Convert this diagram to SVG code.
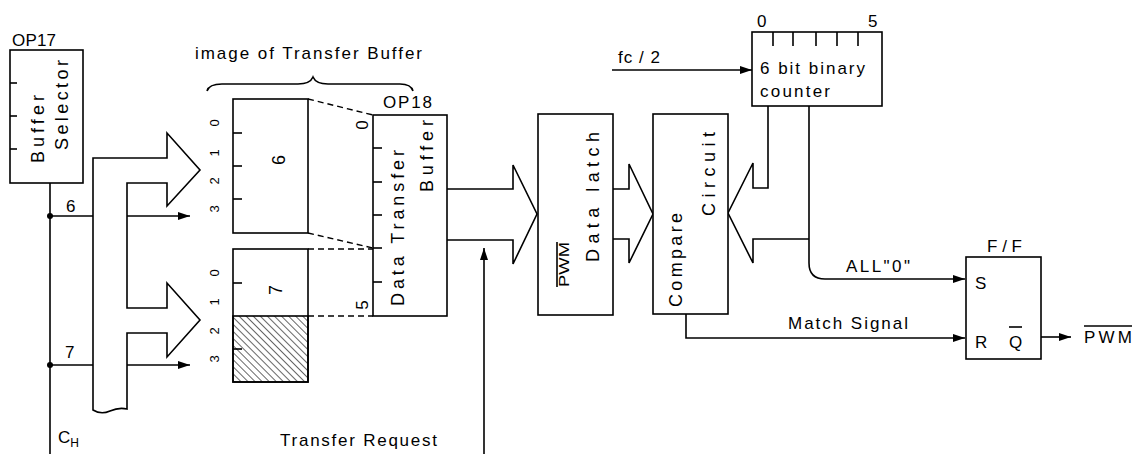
<svg xmlns="http://www.w3.org/2000/svg" width="1134" height="454" viewBox="0 0 1134 454">
<style>
  text { font-family: "Liberation Sans", Arial, sans-serif; fill: #000; }
  .t { font-size: 17px; }
  .big { font-size: 18px; }
  .bit { font-size: 13px; }
  .box { fill: #fff; stroke: #000; stroke-width: 1.6; }
  .ln { fill: none; stroke: #000; stroke-width: 1.6; }
  .bus { fill: #fff; stroke: #000; stroke-width: 1.6; stroke-linejoin: miter; }
  .dash { fill: none; stroke: #000; stroke-width: 1.4; stroke-dasharray: 6 4; }
  .tick { stroke: #000; stroke-width: 1.6; }
</style>
<defs>
  <marker id="ah" viewBox="0 0 12 8" refX="12" refY="4" markerWidth="12" markerHeight="8" markerUnits="userSpaceOnUse" orient="auto">
    <path d="M0,0 L12,4 L0,8 Z" fill="#000"/>
  </marker>
  <pattern id="hatch" width="5" height="10" patternUnits="userSpaceOnUse" patternTransform="rotate(-45)">
    <line x1="0" y1="0" x2="0" y2="10" stroke="#000" stroke-width="1.2"/>
  </pattern>
</defs>

<!-- connectors -->
<g id="connectors">
  <line class="ln" x1="50" y1="183" x2="50" y2="454"/>
  <circle cx="50" cy="216" r="3" fill="#000"/>
  <circle cx="50" cy="365" r="3" fill="#000"/>
  <line class="ln" x1="50" y1="216" x2="190" y2="216" marker-end="url(#ah)"/>
  <line class="ln" x1="50" y1="365" x2="190" y2="365" marker-end="url(#ah)"/>
  <path class="bus" d="M127,409 V333 H167 V357 L200,320 L167,283 V308 H127 V183 H167 V206 L200,170 L167,133 V158 H93 V410 Q101,415 110,411 Q119,407 127,409 Z"/>
  <line class="dash" x1="308" y1="99" x2="373" y2="115"/>
  <line class="dash" x1="308" y1="233" x2="373" y2="248"/>
  <line class="dash" x1="308" y1="249" x2="373" y2="249"/>
  <line class="dash" x1="308" y1="316" x2="373" y2="316"/>
  <path class="bus" d="M447,189 H513 V165 L537,214 L513,264 V240 H447"/>
  <line class="ln" x1="484" y1="454" x2="484" y2="248" marker-end="url(#ah)"/>
  <path class="bus" d="M613,189 H629 V164 L653,214 L629,263 V239 H613"/>
  <path class="bus" d="M768,106 V188 H753 V163 L728,213 L753,263 V239 H809"/>
  <line class="ln" x1="612" y1="70" x2="752" y2="70" marker-end="url(#ah)"/>
  <path class="ln" d="M809,106 V263 Q809,279 825,279 H965" marker-end="url(#ah)"/>
  <path class="ln" d="M686,314 V338 H965" marker-end="url(#ah)"/>
  <line class="ln" x1="1041" y1="337" x2="1071" y2="337" marker-end="url(#ah)"/>
</g>

<g id="brace">
  <path class="ln" d="M207,91 Q209,84 222,84 H298 Q310,84 313,77 Q316,84 328,84 H400 Q411,84 413,91"/>
  <text class="t" x="195" y="59" textLength="227" lengthAdjust="spacing">image of Transfer Buffer</text>
</g>

<g id="buffer-selector">
  <text class="t" x="12" y="46" textLength="44" lengthAdjust="spacing">OP17</text>
  <rect class="box" x="10" y="50" width="73" height="133"/>
  <line class="tick" x1="10" y1="83" x2="17" y2="83"/>
  <line class="tick" x1="10" y1="116" x2="17" y2="116"/>
  <line class="tick" x1="10" y1="149" x2="17" y2="149"/>
  <text class="big" transform="translate(44,163) rotate(-90)" textLength="68" lengthAdjust="spacing">Buffer</text>
  <text class="big" transform="translate(68,150) rotate(-90)" textLength="90" lengthAdjust="spacing">Selector</text>
  <text class="t" x="66" y="212">6</text>
  <text class="t" x="65" y="358">7</text>
  <text class="t" x="58" y="443">C<tspan font-size="12" dy="4">H</tspan></text>
</g>

<g id="reg6">
  <rect class="box" x="233" y="99" width="75" height="134"/>
  <line class="tick" x1="233" y1="133" x2="242" y2="133"/>
  <line class="tick" x1="233" y1="166" x2="242" y2="166"/>
  <line class="tick" x1="233" y1="199" x2="242" y2="199"/>
  <g class="bit" text-anchor="middle">
    <text transform="translate(219,123) rotate(-90)">0</text>
    <text transform="translate(219,153) rotate(-90)">1</text>
    <text transform="translate(219,181) rotate(-90)">2</text>
    <text transform="translate(219,209) rotate(-90)">3</text>
  </g>
  <text transform="translate(285,160) rotate(-90)" font-size="18" text-anchor="middle">6</text>
</g>

<g id="reg7">
  <rect class="box" x="233" y="249" width="75" height="133"/>
  <rect x="233" y="316" width="75" height="66" fill="url(#hatch)" stroke="#000" stroke-width="1.6"/>
  <line class="tick" x1="233" y1="283" x2="242" y2="283"/>
  <line class="tick" x1="233" y1="349" x2="242" y2="349"/>
  <g class="bit" text-anchor="middle">
    <text transform="translate(219,273) rotate(-90)">0</text>
    <text transform="translate(219,302) rotate(-90)">1</text>
    <text transform="translate(219,331) rotate(-90)">2</text>
    <text transform="translate(219,359) rotate(-90)">3</text>
  </g>
  <text transform="translate(282,290) rotate(-90)" font-size="18" text-anchor="middle">7</text>
</g>

<g id="dtb">
  <text class="t" x="383" y="108" textLength="49" lengthAdjust="spacing">OP18</text>
  <rect class="box" x="373" y="115" width="74" height="201"/>
  <line class="tick" x1="373" y1="148" x2="382" y2="148"/>
  <line class="tick" x1="373" y1="182" x2="382" y2="182"/>
  <line class="tick" x1="373" y1="215" x2="382" y2="215"/>
  <line class="tick" x1="373" y1="248" x2="382" y2="248"/>
  <line class="tick" x1="373" y1="282" x2="382" y2="282"/>
  <text class="t" transform="translate(368,125) rotate(-90)" text-anchor="middle">0</text>
  <text class="t" transform="translate(368,305) rotate(-90)" text-anchor="middle">5</text>
  <text class="big" transform="translate(404,306) rotate(-90)" textLength="156" lengthAdjust="spacing">Data Transfer</text>
  <text class="big" transform="translate(433,192) rotate(-90)" textLength="72" lengthAdjust="spacing">Buffer</text>
  <text class="t" x="280" y="446" textLength="157" lengthAdjust="spacing">Transfer Request</text>
</g>

<g id="latch">
  <rect class="box" x="538" y="114" width="75" height="201"/>
  <text transform="translate(569,287) rotate(-90)" font-size="14" textLength="45" lengthAdjust="spacingAndGlyphs">PWM</text>
  <line class="ln" x1="557" y1="242" x2="557" y2="287"/>
  <text class="big" transform="translate(599,262) rotate(-90)" textLength="130" lengthAdjust="spacing">Data latch</text>
</g>

<g id="compare">
  <rect class="box" x="653" y="114" width="75" height="200"/>
  <text class="big" transform="translate(682,307) rotate(-90)" textLength="94" lengthAdjust="spacing">Compare</text>
  <text class="big" transform="translate(715,216) rotate(-90)" textLength="84" lengthAdjust="spacing">Circuit</text>
</g>

<g id="counter">
  <rect class="box" x="752" y="32" width="130" height="74"/>
  <line class="tick" x1="773" y1="32" x2="773" y2="46"/>
  <line class="tick" x1="793" y1="32" x2="793" y2="46"/>
  <line class="tick" x1="816" y1="32" x2="816" y2="46"/>
  <line class="tick" x1="837" y1="32" x2="837" y2="46"/>
  <line class="tick" x1="858" y1="32" x2="858" y2="46"/>
  <text class="t" x="757" y="27">0</text>
  <text class="t" x="868" y="27">5</text>
  <text class="t" x="760" y="74" textLength="105" lengthAdjust="spacing">6 bit binary</text>
  <text class="t" x="760" y="97" textLength="70" lengthAdjust="spacing">counter</text>
  <text class="t" x="618" y="63" textLength="42" lengthAdjust="spacing">fc / 2</text>
</g>

<g id="ff">
  <text class="t" x="987" y="252" textLength="35" lengthAdjust="spacing">F / F</text>
  <rect class="box" x="966" y="257" width="75" height="102"/>
  <text class="t" x="975" y="289">S</text>
  <text class="t" x="975" y="348">R</text>
  <text class="t" x="1009" y="348">Q</text>
  <line class="ln" x1="1009" y1="327" x2="1022" y2="327"/>
  <text class="t" x="846" y="272" textLength="64" lengthAdjust="spacing">ALL"0"</text>
  <text class="t" x="788" y="329" textLength="120" lengthAdjust="spacing">Match Signal</text>
  <text class="t" x="1084" y="343" textLength="48" lengthAdjust="spacing">PWM</text>
  <line class="ln" x1="1084" y1="326" x2="1132" y2="326"/>
</g>
</svg>
